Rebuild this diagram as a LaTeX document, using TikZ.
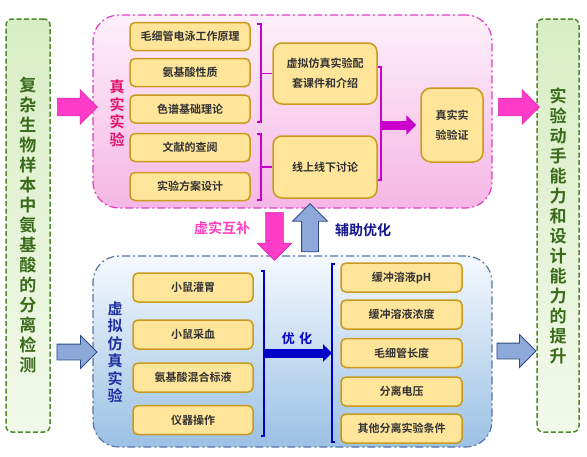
\documentclass[tikz,border=0pt]{standalone}
\usepackage{fontspec}
\setmainfont{Noto Sans CJK SC}[BoldFont={Noto Sans CJK SC Bold}]
\usetikzlibrary{shapes.arrows,arrows.meta}
\definecolor{gTop}{HTML}{D8EDC4}
\definecolor{gBot}{HTML}{F2F9EA}
\definecolor{gLine}{HTML}{4F8A2B}
\definecolor{gText}{HTML}{3A6B1A}
\definecolor{pTop}{HTML}{FDF0F9}
\definecolor{pBot}{HTML}{F5B6E5}
\definecolor{pLine}{HTML}{E23CC5}
\definecolor{bTop}{HTML}{F4F9FE}
\definecolor{bBot}{HTML}{9BC1E4}
\definecolor{bLine}{HTML}{5B74A5}
\definecolor{yFill}{HTML}{FFE59A}
\definecolor{yLine}{HTML}{C99A1E}
\definecolor{mArrow}{HTML}{FF3CC8}
\definecolor{mArrowD}{HTML}{E02AB0}
\definecolor{mLine}{HTML}{CC00CC}
\definecolor{blArrow}{HTML}{8EA8DA}
\definecolor{blArrowD}{HTML}{2E4A87}
\definecolor{dBlue}{HTML}{0000C8}
\definecolor{redLab}{HTML}{E0106E}
\definecolor{pinkLab}{HTML}{FF40C0}
\definecolor{blueLab}{HTML}{2030A0}
\definecolor{navyLab}{HTML}{14148C}
\definecolor{txt}{HTML}{333333}
\tikzset{
  gbox/.style={draw=gLine, line width=1.5pt, dash pattern=on 5pt off 2.5pt,
    rounded corners=6pt, top color=gTop, bottom color=gBot, inner sep=0pt,
    align=center, text=gText, font=\fontsize{17}{20}\selectfont\bfseries},
  pcont/.style={draw=pLine, line width=1.2pt, dash pattern=on 8pt off 3pt on 2pt off 3pt,
    rounded corners=26pt, top color=pTop, bottom color=pBot, inner sep=0pt},
  bcont/.style={draw=bLine, line width=1.2pt, dash pattern=on 8pt off 3pt on 2pt off 3pt,
    rounded corners=26pt, top color=bTop, bottom color=bBot, inner sep=0pt},
  ybox/.style={draw=yLine, line width=1.5pt, fill=yFill, rounded corners=5pt,
    inner sep=0pt, align=center, text=txt,
    font=\fontsize{11}{20}\selectfont\bfseries},
  magarrow/.style={single arrow, draw=mArrowD, fill=mArrow, line width=0.6pt,
    inner xsep=0pt, inner ysep=8.5pt, single arrow head extend=8.5pt},
  bluarrow/.style={single arrow, draw=blArrowD, fill=blArrow, line width=0.8pt,
    inner xsep=0pt, inner ysep=7.5pt, single arrow head extend=8.5pt},
  magline/.style={draw=mLine, line width=1.5pt},
  bluline/.style={draw=dBlue, line width=1.5pt},
  vlab/.style={align=center, inner sep=0pt, font=\fontsize{15}{17.5}\selectfont\bfseries},
  hlab/.style={inner sep=0pt, font=\fontsize{14}{16}\selectfont\bfseries}
}
\begin{document}
\begin{tikzpicture}[x=1pt,y=-1pt]
\useasboundingbox (0,0) rectangle (587,456);
\fill[white] (0,0) rectangle (587,456);
% side boxes
\node[gbox, minimum width=44pt, minimum height=413pt] (L) at (28,225.5)
  {复\\杂\\生\\物\\样\\本\\中\\氨\\基\\酸\\的\\分\\离\\检\\测};
\node[gbox, minimum width=42pt, minimum height=413pt] (R) at (558,225.5)
  {实\\验\\动\\手\\能\\力\\和\\设\\计\\能\\力\\的\\提\\升};
% containers
\node[pcont, minimum width=399pt, minimum height=193pt] (P) at (292.5,111.5) {};
\node[bcont, minimum width=399pt, minimum height=191pt] (B) at (292.5,351.5) {};
% labels in containers
\node[vlab, text=redLab] (plab) at (117,113) {真\\实\\实\\验};
\node[vlab, text=blueLab] (blab) at (115,352) {虚\\拟\\仿\\真\\实\\验};
% real experiment items
\node[ybox, minimum width=120pt, minimum height=28pt] (m1) at (190,36.5) {毛细管电泳工作原理};
\node[ybox, minimum width=120pt, minimum height=28pt] (m2) at (190,72.5) {氨基酸性质};
\node[ybox, minimum width=120pt, minimum height=28pt] (m3) at (190,109) {色谱基础理论};
\node[ybox, minimum width=120pt, minimum height=28pt] (m4) at (190,147.5) {文献的查阅};
\node[ybox, minimum width=120pt, minimum height=28pt] (m5) at (190,186.5) {实验方案设计};
\node[ybox, minimum width=104pt, minimum height=61pt, rounded corners=9pt] (v1) at (325,73.5) {虚拟仿真实验配\\套课件和介绍};
\node[ybox, minimum width=104pt, minimum height=62pt, rounded corners=9pt] (v2) at (325,167) {线上线下讨论};
\node[ybox, minimum width=62pt, minimum height=74pt, rounded corners=10pt] (rv) at (452,125) {真实实\\验验证};
% virtual items
\node[ybox, minimum width=120pt, minimum height=29pt] (b1) at (193,287.5) {小鼠灌胃};
\node[ybox, minimum width=120pt, minimum height=29pt] (b2) at (193,334.5) {小鼠采血};
\node[ybox, minimum width=120pt, minimum height=29pt] (b3) at (193,377.5) {氨基酸混合标液};
\node[ybox, minimum width=120pt, minimum height=29pt] (b4) at (193,420) {仪器操作};
\node[ybox, minimum width=121pt, minimum height=29pt] (o1) at (401.5,277.5) {缓冲溶液pH};
\node[ybox, minimum width=121pt, minimum height=29pt] (o2) at (401.5,314.5) {缓冲溶液浓度};
\node[ybox, minimum width=121pt, minimum height=29pt] (o3) at (401.5,353) {毛细管长度};
\node[ybox, minimum width=121pt, minimum height=29pt] (o4) at (401.5,391.5) {分离电压};
\node[ybox, minimum width=121pt, minimum height=29pt] (o5) at (401.5,428.5) {其他分离实验条件};
% brackets (real)
\coordinate (k1t) at (261,24); \coordinate (k1b) at (261,122); \coordinate (k1m) at (261,73.5);
\draw[magline] ([xshift=-4pt]k1t) -- (k1t) -- (k1b) -- ([xshift=-4pt]k1b);
\draw[magline] (k1m) -- (v1.west);
\coordinate (k2t) at (261,134); \coordinate (k2b) at (261,200); \coordinate (k2m) at (261,167);
\draw[magline] ([xshift=-4pt]k2t) -- (k2t) -- (k2b) -- ([xshift=-4pt]k2b);
\draw[magline] (k2m) -- (v2.west);
\coordinate (k3t) at (381,67); \coordinate (k3b) at (381,180); \coordinate (k3m) at (381,125);
\draw[magline] ([xshift=-3pt]k3t) -- (k3t) -- (k3b) -- ([xshift=-3pt]k3b);
\draw[draw=mLine, line width=9pt, -{Triangle[length=10pt,width=19pt]}, shorten >=4pt] (k3m) -- (rv.west);
% brackets (virtual)
\coordinate (k4t) at (264,271); \coordinate (k4b) at (264,436); \coordinate (k4m) at (264,353);
\draw[bluline] ([xshift=-3pt]k4t) -- (k4t) -- (k4b) -- ([xshift=-3pt]k4b);
\coordinate (k5t) at (332,264); \coordinate (k5b) at (332,442); \coordinate (k5m) at (332,353);
\draw[bluline] ([xshift=3pt]k5t) -- (k5t) -- (k5b) -- ([xshift=3pt]k5b);
\draw[draw=dBlue, line width=9pt, -{Triangle[length=9pt,width=17pt]}] (k4m) -- (k5m);
\node[inner sep=0pt, text=dBlue, font=\fontsize{13}{15}\selectfont\bfseries] (opt) at (297,339) {优\,\,化};
% block arrows
\node[magarrow, minimum height=40pt] (a1) at (73,107) {};
\node[magarrow, minimum height=41pt] (a2) at (514.5,107) {};
\node[magarrow, minimum height=48pt, rotate=-90] (a3) at (274.5,232) {};
\node[bluarrow, minimum height=48pt, inner ysep=8pt, single arrow head extend=9pt, rotate=90] (a4) at (310,232) {};
\node[bluarrow, minimum height=40pt] (a5) at (73,352) {};
\node[bluarrow, minimum height=39pt] (a6) at (512.5,351) {};
\node[hlab, text=pinkLab] (l1) at (222,228) {虚实互补};
\node[hlab, text=navyLab] (l2) at (363,230) {辅助优化};
\end{tikzpicture}
\end{document}
